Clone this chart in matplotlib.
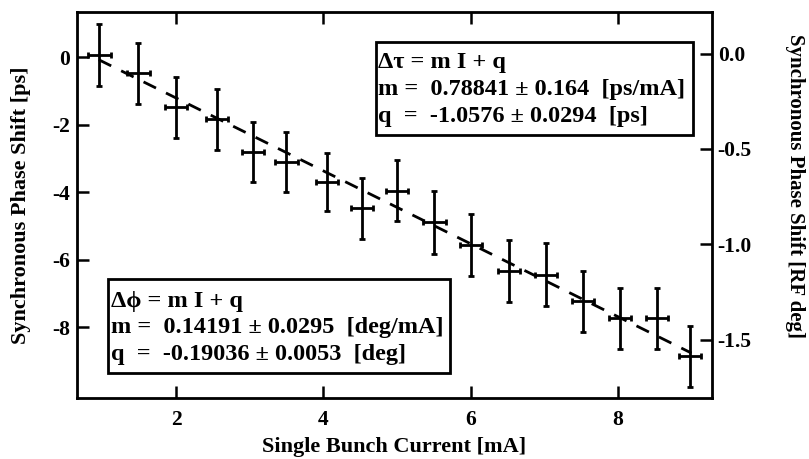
import numpy as np
import matplotlib
matplotlib.use('Agg')
import matplotlib.pyplot as plt
from matplotlib.patches import Rectangle

plt.rcParams['font.family'] = ['Liberation Serif', 'DejaVu Serif']
plt.rcParams['font.weight'] = 'bold'
plt.rcParams['axes.labelweight'] = 'bold'
plt.rcParams['axes.unicode_minus'] = False

# Data
current  = [0.96, 1.49, 2.00, 2.56, 3.04, 3.50, 4.05, 4.52, 5.00, 5.51, 6.00, 6.52, 7.03, 7.53, 8.03, 8.53, 8.98]
shift_ps = [0.08, -0.47, -1.48, -1.83, -2.79, -3.10, -3.68, -4.47, -3.95, -4.89, -5.57, -6.32, -6.44, -7.23, -7.73, -7.73, -8.86]
err_ps   = [0.92, 0.91, 0.90, 0.90, 0.89, 0.89, 0.86, 0.90, 0.91, 0.92, 0.92, 0.92, 0.93, 0.90, 0.91, 0.91, 0.91]
err_I    = 0.15

# dashed linear fit as drawn
fit_slope     = -1.08
fit_intercept = 0.96
fit_range     = [0.95, 9.0]

xticks   = [2, 4, 6, 8]
yticks_l = [0, -2, -4, -6, -8]
yticks_r = [0.0, -0.5, -1.0, -1.5]

txt_ps  = 'Δτ = m I + q\nm =  0.78841 ± 0.164  [ps/mA]\nq  =  -1.0576 ± 0.0294  [ps]'
txt_deg = 'Δϕ = m I + q\nm =  0.14191 ± 0.0295  [deg/mA]\nq  =  -0.19036 ± 0.0053  [deg]'

fig = plt.figure(figsize=(8.09, 4.59), dpi=100)
ax = fig.add_axes([0.0952, 0.133, 0.785, 0.841])

ax.errorbar(current, shift_ps, yerr=err_ps, xerr=err_I, fmt='none', ecolor='k',
            elinewidth=2.0, capsize=2.5, capthick=2.0)
xf = np.array(fit_range)
ax.plot(xf, fit_slope*xf + fit_intercept, color='k', lw=2.0, dashes=(5, 4))

ax.set_xlim(0.655, 9.28)
ax.set_ylim(-10.09, 1.35)
ax.set_xticks(xticks)
ax.set_yticks(yticks_l)
ax.set_yticklabels([str(v) for v in yticks_l])
ax.tick_params(direction='in', length=8.5, width=1.8, labelsize=15.5, top=True, right=False)
ax.tick_params(axis='x', pad=9)
ax.tick_params(axis='y', pad=5)
for s in ax.spines.values():
    s.set_linewidth(2.0)
ax.set_xlabel('Single Bunch Current [mA]', fontsize=16)
ax.xaxis.set_label_coords(0.5, -0.1)
ax.set_ylabel('Synchronous Phase Shift [ps]', fontsize=16)
ax.yaxis.set_label_coords(-0.072, 0.5)

ax2 = ax.twinx()
ax2.set_ylim(-1.806, 0.218)
ax2.set_yticks(yticks_r)
ax2.set_yticklabels(['%.1f' % v for v in yticks_r])
ax2.tick_params(direction='in', length=8.5, width=1.8, labelsize=15.5, pad=4)
ax2.set_ylabel('Synchronous Phase Shift [RF deg]', fontsize=15, rotation=270, va='center')
ax2.yaxis.set_label_coords(1.13, 0.55)

# fit result boxes
ax.add_patch(Rectangle((0.471, 0.681), 0.499, 0.242, transform=ax.transAxes,
                       fc='white', ec='k', lw=2.0, zorder=3))
ax.text(0.474, 0.895, txt_ps, transform=ax.transAxes, ha='left', va='top',
        fontsize=17.5, linespacing=1.35, zorder=4)
ax.add_patch(Rectangle((0.049, 0.0655), 0.538, 0.242, transform=ax.transAxes,
                       fc='white', ec='k', lw=2.0, zorder=3))
ax.text(0.053, 0.278, txt_deg, transform=ax.transAxes, ha='left', va='top',
        fontsize=17.5, linespacing=1.35, zorder=4)

fig.savefig('out.png', dpi=100)
